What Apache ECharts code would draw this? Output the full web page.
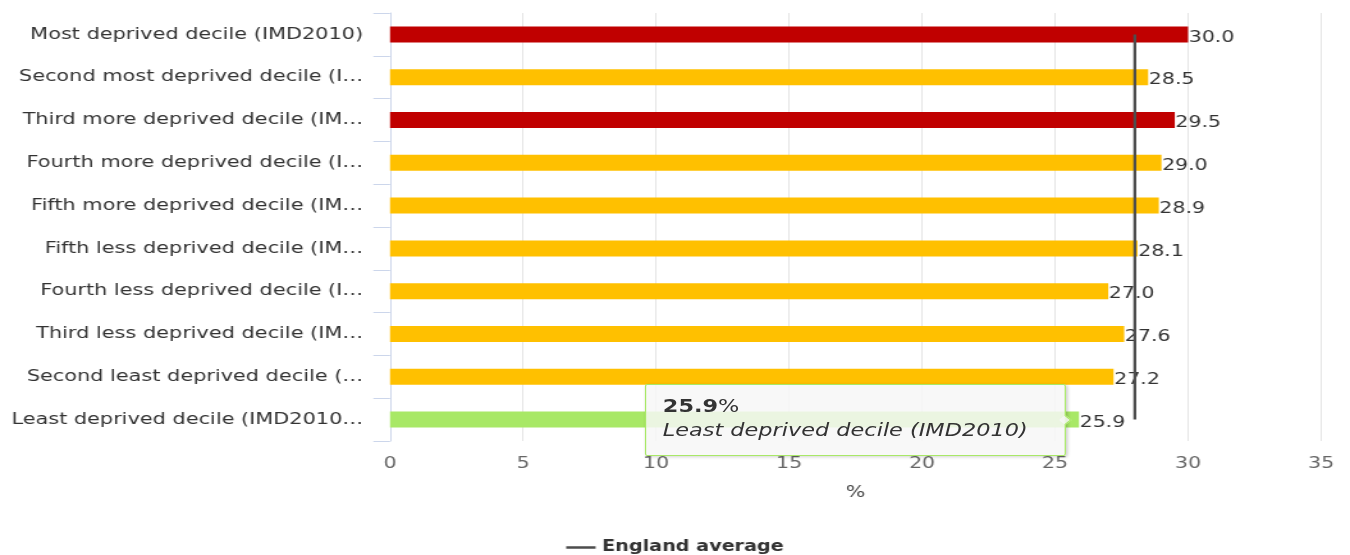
<!DOCTYPE html>
<html>
<head>
<meta charset="utf-8">
<script src="https://cdn.jsdelivr.net/npm/echarts@6/dist/echarts.min.js"></script>
<style>
  html, body { margin: 0; padding: 0; background: #fff; overflow: hidden; }
  #wrap { width: 1350px; height: 555px; overflow: hidden; }
  #chart { width: 1055px; height: 555px; transform: scaleX(1.2796); transform-origin: 0 0; }
</style>
</head>
<body>
<div id="wrap"><div id="chart"></div></div>
<script>
// ---- data ----
var categories = [
  'Most deprived decile (IMD2010)',
  'Second most deprived decile (IMD2010)',
  'Third more deprived decile (IMD2010)',
  'Fourth more deprived decile (IMD2010)',
  'Fifth more deprived decile (IMD2010)',
  'Fifth less deprived decile (IMD2010)',
  'Fourth less deprived decile (IMD2010)',
  'Third less deprived decile (IMD2010)',
  'Second least deprived decile (IMD2010)',
  'Least deprived decile (IMD2010)'
];
var tickLabels = [
  'Most deprived decile (IMD2010)',
  'Second most deprived decile (I\u2026',
  'Third more deprived decile (IM\u2026',
  'Fourth more deprived decile (I\u2026',
  'Fifth more deprived decile (IM\u2026',
  'Fifth less deprived decile (IM\u2026',
  'Fourth less deprived decile (I\u2026',
  'Third less deprived decile (IM\u2026',
  'Second least deprived decile (\u2026',
  'Least deprived decile (IMD2010\u2026'
];
var values = [30.0, 28.5, 29.5, 29.0, 28.9, 28.1, 27.0, 27.6, 27.2, 25.9];
var significance = ['worse', 'similar', 'worse', 'similar', 'similar', 'similar', 'similar', 'similar', 'similar', 'better'];
var englandAverage = 28.0;
var xTicks = [0, 5, 10, 15, 20, 25, 30, 35];
var tooltipCategory = 'Least deprived decile (IMD2010)';

// ---- styles ----
var FONT = 'DejaVu Sans';
var sigColors = { worse: '#c00000', similar: '#ffc000', better: '#a8e866' };

var chart = echarts.init(document.getElementById('chart'), null, { renderer: 'canvas' });

var option = {
  animation: false,
  backgroundColor: '#ffffff',
  textStyle: { fontFamily: FONT },
  grid: { left: 304.8, right: 22.6, top: 13, bottom: 114, containLabel: false },
  xAxis: {
    type: 'value',
    min: xTicks[0],
    max: xTicks[xTicks.length - 1],
    interval: xTicks[1] - xTicks[0],
    name: '%',
    nameLocation: 'middle',
    nameGap: 44,
    nameTextStyle: { color: '#444', fontSize: 16, fontFamily: FONT },
    axisLine: { show: false },
    axisTick: { show: false },
    axisLabel: { color: '#666', fontSize: 16, fontFamily: FONT, margin: 15 },
    splitLine: { show: true, lineStyle: { color: '#e6e6e6', width: 1 } }
  },
  yAxis: {
    type: 'category',
    data: categories,
    inverse: true,
    axisLine: { show: true, lineStyle: { color: '#ccd6eb', width: 1 } },
    axisTick: { show: true, length: 13, lineStyle: { color: '#ccd6eb', width: 1 } },
    axisLabel: {
      color: '#333', fontSize: 16.3, fontFamily: FONT, margin: 21,
      formatter: function (v, i) { return tickLabels[i]; }
    },
    splitLine: { show: false }
  },
  legend: {
    data: [{ name: 'England average', icon: 'rect' }],
    top: 535,
    left: 'center',
    itemWidth: 23,
    itemHeight: 2.5,
    itemGap: 10,
    textStyle: { color: '#333', fontSize: 15, fontWeight: 'bold', fontFamily: FONT },
    selectedMode: false
  },
  tooltip: {
    show: true,
    trigger: 'item',
    triggerOn: 'none',
    alwaysShowContent: true,
    position: 'left',
    transitionDuration: 0,
    backgroundColor: 'rgba(247,247,247,0.85)',
    borderColor: '#a8e866',
    borderWidth: 1,
    padding: [10, 29, 13, 13],
    textStyle: { color: '#333', fontSize: 17.5, fontFamily: FONT },
    extraCssText: 'box-shadow: 1px 1px 3px rgba(0,0,0,0.18); border-radius: 2px;',
    formatter: function (p) {
      var i = p.dataIndex;
      return '<div style="line-height:23.5px;font-family:DejaVu Sans;font-size:17.5px;color:#333">' +
        '<b>' + values[i].toFixed(1) + '</b>%<br/>' +
        '<i>' + categories[i] + '</i></div>';
    }
  },
  series: [
    {
      type: 'bar',
      name: 'Value',
      data: values.map(function (v, i) {
        return { value: v, itemStyle: { color: sigColors[significance[i]] } };
      }),
      barWidth: 16,
      tooltip: { show: false },
      label: {
        show: true,
        position: 'right',
        distance: 0.5,
        offset: [0, 3],
        color: '#333',
        fontSize: 16,
        fontFamily: FONT,
        formatter: function (p) { return values[p.dataIndex].toFixed(1); }
      },
      emphasis: { disabled: true },
      z: 2
    },
    {
      type: 'line',
      name: 'England average',
      data: categories.map(function () { return englandAverage; }),
      symbol: 'none',
      lineStyle: { color: '#4d4d4d', width: 2.3 },
      itemStyle: { color: '#4d4d4d' },
      tooltip: { show: false },
      emphasis: { disabled: true },
      z: 5
    },
    {
      type: 'scatter',
      name: 'anchor',
      data: values,
      symbolSize: 1,
      itemStyle: { color: 'rgba(0,0,0,0)' },
      emphasis: { disabled: true },
      z: 1
    }
  ]
};

chart.setOption(option);
chart.dispatchAction({
  type: 'showTip',
  seriesIndex: 2,
  dataIndex: categories.indexOf(tooltipCategory)
});
</script>
</body>
</html>
